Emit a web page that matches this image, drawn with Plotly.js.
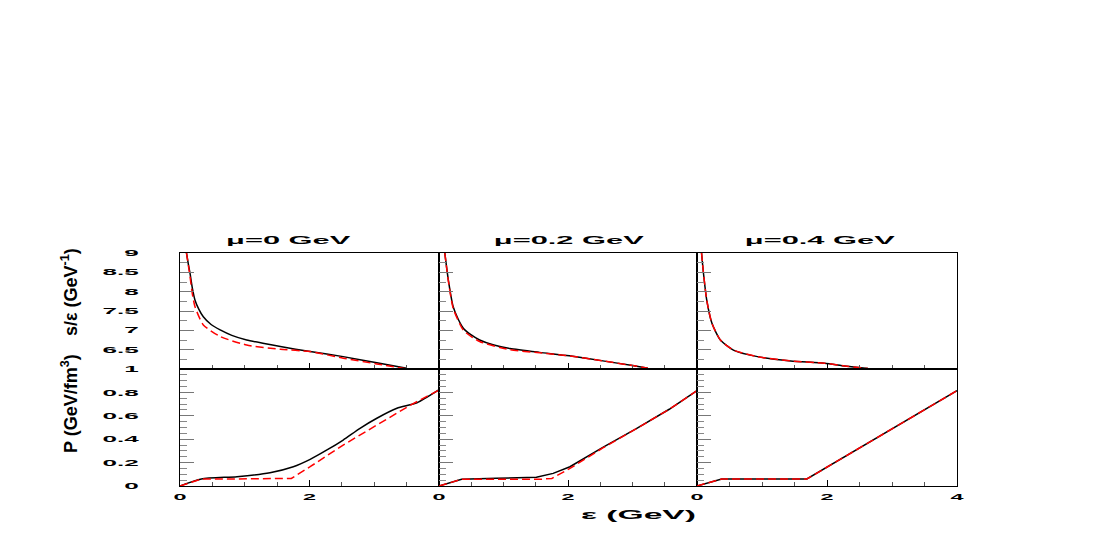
<!DOCTYPE html>
<html>
<head>
<meta charset="utf-8">
<script src="https://cdn.plot.ly/plotly-3.0.1.min.js"></script>
<style>
  html, body { margin: 0; padding: 0; background: #ffffff; }
  #chart { width: 1117px; height: 545px; }
</style>
</head>
<body>
<div id="chart"></div>
<script>
// ---------------- data ----------------
const panelTitles = ["μ=0 GeV", "μ=0.2 GeV", "μ=0.4 GeV"];

// top row: s/epsilon (GeV^-1) vs epsilon (GeV)
const sEps_mu0_black = [0.10, 0.13, 0.155, 0.19, 0.232, 0.29, 0.36, 0.48, 0.62, 0.80, 1.03, 1.30, 1.55, 2.01, 2.52, 3.04, 3.50];
const sVal_mu0_black = [9.00, 8.70, 8.47, 8.10, 7.78, 7.55, 7.35, 7.15, 7.01, 6.87, 6.75, 6.66, 6.58, 6.45, 6.32, 6.16, 6.02];
const sEps_mu0_red   = [0.10, 0.155, 0.19, 0.232, 0.36, 0.62, 1.03, 1.55, 2.01, 2.52, 3.04, 3.50];
const sVal_mu0_red   = [9.00, 8.39, 7.95, 7.61, 7.14, 6.84, 6.62, 6.51, 6.45, 6.28, 6.13, 6.00];

const sEps_mu02_black = [0.09, 0.145, 0.22, 0.30, 0.38, 0.50, 0.63, 0.85, 1.10, 1.56, 2.02, 2.54, 3.00, 3.24];
const sVal_mu02_black = [9.00, 8.30, 7.61, 7.28, 7.05, 6.88, 6.75, 6.62, 6.53, 6.43, 6.34, 6.21, 6.09, 6.02];
const sEps_mu02_red   = [0.09, 0.145, 0.22, 0.38, 0.63, 1.10, 1.56, 2.02, 2.54, 3.00, 3.24];
const sVal_mu02_red   = [9.00, 8.28, 7.57, 7.00, 6.71, 6.50, 6.42, 6.34, 6.21, 6.09, 6.02];

const sEps_mu04_black = [0.07, 0.10, 0.15, 0.23, 0.36, 0.56, 0.93, 1.44, 1.96, 2.27, 2.63];
const sVal_mu04_black = [9.00, 8.47, 7.78, 7.18, 6.75, 6.49, 6.32, 6.21, 6.15, 6.08, 6.01];
const sEps_mu04_red   = [0.07, 0.10, 0.15, 0.23, 0.36, 0.56, 0.93, 1.44, 1.96, 2.27, 2.63];
const sVal_mu04_red   = [9.00, 8.47, 7.78, 7.18, 6.75, 6.49, 6.32, 6.21, 6.15, 6.08, 6.01];

// bottom row: P (GeV/fm^3) vs epsilon (GeV)
const pEps_mu0_black = [0, 0.33, 0.88, 1.39, 1.75, 2.01, 2.27, 2.52, 2.78, 3.04, 3.35, 3.66, 3.99];
const pVal_mu0_black = [0, 0.060, 0.080, 0.114, 0.165, 0.228, 0.308, 0.393, 0.493, 0.579, 0.664, 0.712, 0.820];
const pEps_mu0_red   = [0, 0.33, 0.88, 1.72, 2.01, 2.52, 3.04, 3.56, 4.00];
const pVal_mu0_red   = [0, 0.060, 0.060, 0.065, 0.165, 0.350, 0.521, 0.692, 0.820];

const pEps_mu02_black = [0, 0.35, 0.89, 1.51, 1.77, 2.03, 2.54, 3.06, 3.57, 4.00];
const pVal_mu02_black = [0, 0.057, 0.066, 0.074, 0.108, 0.165, 0.330, 0.490, 0.656, 0.815];
const pEps_mu02_red   = [0, 0.35, 1.56, 1.75, 2.03, 2.54, 3.06, 3.57, 4.00];
const pVal_mu02_red   = [0, 0.057, 0.057, 0.065, 0.150, 0.325, 0.490, 0.656, 0.815];

const pEps_mu04_black = [0, 0.38, 1.69, 4.00];
const pVal_mu04_black = [0, 0.060, 0.060, 0.815];
const pEps_mu04_red   = [0, 0.38, 1.69, 4.00];
const pVal_mu04_red   = [0, 0.060, 0.060, 0.815];

// tick labels
const sTickVals = [6.5, 7, 7.5, 8, 8.5, 9];
const sTickText = ["6.5", "7", "7.5", "8", "8.5", "9"];
const pTickVals = [0, 0.2, 0.4, 0.6, 0.8, 1];
const pTickText = ["0", "0.2", "0.4", "0.6", "0.8", "1"];
const xTickValsInner = [0, 2];
const xTickValsLast = [0, 2, 4];

const yTitleTop = "s/ε (GeV<sup>-1</sup>)";
const yTitleBottom = "P (GeV/fm<sup>3</sup>)";
const xTitle = "ε (GeV)";

// ---------------- traces ----------------
const FONT = "Liberation Sans, Arial, sans-serif";
const NARROW = "Liberation Sans Narrow, Liberation Sans, Arial, sans-serif";
function blackLine(x, y, xa, ya, smooth) {
  const ln = {color: "#000000", width: 1.5};
  if (smooth) { ln.shape = "spline"; ln.smoothing = 0.6; }
  return {x: x, y: y, xaxis: xa, yaxis: ya, type: "scatter", mode: "lines",
          line: ln, hoverinfo: "skip", showlegend: false};
}
function redLine(x, y, xa, ya, smooth) {
  const ln = {color: "#ff0000", width: 1.5, dash: "8px,4px"};
  if (smooth) { ln.shape = "spline"; ln.smoothing = 0.6; }
  return {x: x, y: y, xaxis: xa, yaxis: ya, type: "scatter", mode: "lines",
          line: ln, hoverinfo: "skip", showlegend: false};
}

const traces = [
  blackLine(sEps_mu0_black, sVal_mu0_black, "x", "y", true),
  redLine(sEps_mu0_red, sVal_mu0_red, "x", "y", true),
  blackLine(sEps_mu02_black, sVal_mu02_black, "x2", "y2", true),
  redLine(sEps_mu02_red, sVal_mu02_red, "x2", "y2", true),
  blackLine(sEps_mu04_black, sVal_mu04_black, "x3", "y3", true),
  redLine(sEps_mu04_red, sVal_mu04_red, "x3", "y3", true),
  blackLine(pEps_mu0_black, pVal_mu0_black, "x4", "y4", true),
  redLine(pEps_mu0_red, pVal_mu0_red, "x4", "y4", false),
  blackLine(pEps_mu02_black, pVal_mu02_black, "x5", "y5", false),
  redLine(pEps_mu02_red, pVal_mu02_red, "x5", "y5", false),
  blackLine(pEps_mu04_black, pVal_mu04_black, "x6", "y6", false),
  redLine(pEps_mu04_red, pVal_mu04_red, "x6", "y6", false)
];

// ---------------- layout ----------------
const W = 1117, H = 545;
const xDom = [[180 / W, 439 / W], [439 / W, 697 / W], [697 / W, 957 / W]];
const yDomTop = [(H - 369) / H, (H - 253) / H];
const yDomBot = [(H - 486) / H, (H - 369) / H];

function xAxis(dom, anchor, showLabels, tickvals) {
  return {
    domain: dom, anchor: anchor, range: [0, 4], fixedrange: true,
    showgrid: false, zeroline: false,
    showline: true, mirror: true, linecolor: "#000000", linewidth: 1.1,
    ticks: "inside", ticklen: 6, tickwidth: 1, tickcolor: "#000000",
    tickmode: "array", tickvals: tickvals, ticktext: tickvals.map(String),
    minor: {tickmode: "linear", tick0: 0, dtick: 0.5, ticks: "inside", ticklen: 4, tickwidth: 1, tickcolor: "#555555"},
    showticklabels: showLabels, ticklabelstandoff: 2,
    tickfont: {family: FONT, size: 9, color: "#000000", weight: "bold"}
  };
}
function yAxis(dom, anchor, range, vals, texts, minorStep, showLabels) {
  return {
    domain: dom, anchor: anchor, range: range, fixedrange: true,
    showgrid: false, zeroline: false,
    showline: true, mirror: true, linecolor: "#000000", linewidth: 1.4,
    ticks: "inside", ticklen: 14, tickwidth: 1, tickcolor: "#777777",
    tickmode: "array", tickvals: vals, ticktext: texts,
    minor: {tickmode: "linear", tick0: range[0], dtick: minorStep, ticks: "inside", ticklen: 7, tickwidth: 1, tickcolor: "#888888"},
    showticklabels: showLabels, ticklabelstandoff: 38,
    tickfont: {family: FONT, size: 9, color: "#000000", weight: "bold"}
  };
}

const layout = {
  width: W, height: H,
  margin: {l: 0, r: 0, t: 0, b: 0, pad: 0},
  paper_bgcolor: "#ffffff", plot_bgcolor: "#ffffff",
  showlegend: false,
  font: {family: FONT, color: "#000000"},
  xaxis:  xAxis(xDom[0], "y",  false, xTickValsInner),
  xaxis2: xAxis(xDom[1], "y2", false, xTickValsInner),
  xaxis3: xAxis(xDom[2], "y3", false, xTickValsLast),
  xaxis4: xAxis(xDom[0], "y4", true,  xTickValsInner),
  xaxis5: xAxis(xDom[1], "y5", true,  xTickValsInner),
  xaxis6: xAxis(xDom[2], "y6", true,  xTickValsLast),
  yaxis:  yAxis(yDomTop, "x",  [6, 9], sTickVals, sTickText, 0.25, true),
  yaxis2: yAxis(yDomTop, "x2", [6, 9], sTickVals, sTickText, 0.25, false),
  yaxis3: yAxis(yDomTop, "x3", [6, 9], sTickVals, sTickText, 0.25, false),
  yaxis4: yAxis(yDomBot, "x4", [0, 1], pTickVals, pTickText, 0.05, true),
  yaxis5: yAxis(yDomBot, "x5", [0, 1], pTickVals, pTickText, 0.05, false),
  yaxis6: yAxis(yDomBot, "x6", [0, 1], pTickVals, pTickText, 0.05, false),
  annotations: [
    {text: panelTitles[0], xref: "paper", yref: "paper", x: 288 / W, y: (H - 240) / H, xanchor: "center", yanchor: "middle", showarrow: false,
     font: {family: FONT, size: 11, color: "#000000", weight: "bold"}},
    {text: panelTitles[1], xref: "paper", yref: "paper", x: 569 / W, y: (H - 240) / H, xanchor: "center", yanchor: "middle", showarrow: false,
     font: {family: FONT, size: 11, color: "#000000", weight: "bold"}},
    {text: panelTitles[2], xref: "paper", yref: "paper", x: 820 / W, y: (H - 240) / H, xanchor: "center", yanchor: "middle", showarrow: false,
     font: {family: FONT, size: 11, color: "#000000", weight: "bold"}},
    {text: xTitle, xref: "paper", yref: "paper", x: 638 / W, y: (H - 515) / H, xanchor: "center", yanchor: "middle", showarrow: false,
     font: {family: FONT, size: 12, color: "#000000", weight: "bold"}},
    {text: yTitleTop, xref: "paper", yref: "paper", x: 69 / W, y: (H - 292) / H, xanchor: "center", yanchor: "middle", showarrow: false, textangle: -90,
     font: {family: NARROW, size: 18, color: "#000000", weight: "bold"}},
    {text: yTitleBottom, xref: "paper", yref: "paper", x: 69 / W, y: (H - 404) / H, xanchor: "center", yanchor: "middle", showarrow: false, textangle: -90,
     font: {family: NARROW, size: 18, color: "#000000", weight: "bold"}}
  ]
};

// the reference draws its horizontal text strongly widened; reproduce that with textLength
function widen(nodes, k) {
  nodes.forEach(function (t) {
    if (t.getAttribute("data-widened")) return;
    const w = t.getComputedTextLength();
    if (w > 0) {
      t.setAttribute("textLength", (w * k).toFixed(2));
      t.setAttribute("lengthAdjust", "spacingAndGlyphs");
      t.setAttribute("data-widened", "1");
    }
  });
}
function widenAll() {
  const root = document.getElementById("chart");
  widen(root.querySelectorAll(".xaxislayer-above text"), 2.6);
  widen(root.querySelectorAll(".yaxislayer-above text"), 2.9);
  [0, 1, 2, 3].forEach(function (i) {
    widen(root.querySelectorAll('g.annotation[data-index="' + i + '"] text'), 2.8);
  });
}

const gd = document.getElementById("chart");
Plotly.newPlot(gd, traces, layout, {staticPlot: true, displayModeBar: false}).then(function () {
  widenAll();
  requestAnimationFrame(widenAll);
  setTimeout(widenAll, 50);
  setTimeout(widenAll, 300);
});
</script>
</body>
</html>
